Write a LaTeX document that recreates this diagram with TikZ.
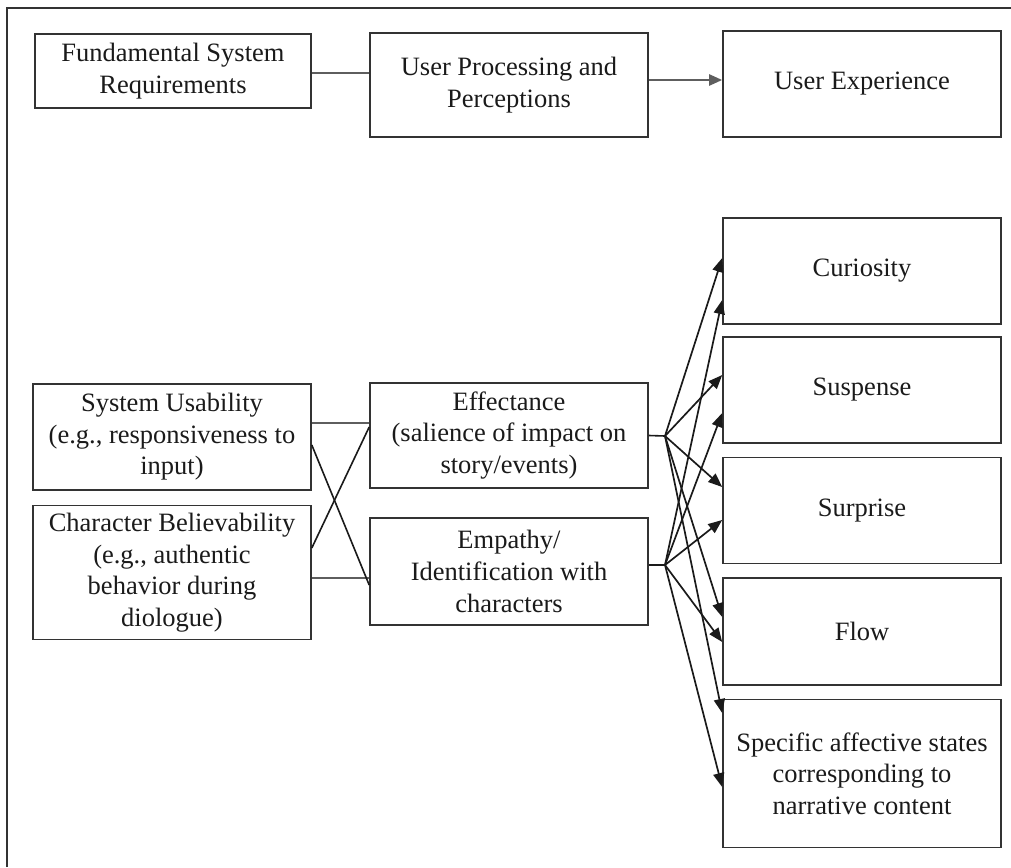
\documentclass[tikz,border=0pt]{standalone}
\usepackage{fontspec}
\setmainfont{Liberation Serif}
\usetikzlibrary{arrows.meta}
\definecolor{ink}{HTML}{1A1A1A}
\definecolor{edge}{HTML}{333333}
\definecolor{link}{HTML}{5E5E5E}
\tikzset{
  box/.style={draw=edge, line width=1.6pt, align=center, text=ink,
    inner sep=0pt, minimum width=278pt,
    font=\fontsize{26.5}{31.6}\selectfont},
  plain/.style={draw=link, line width=2pt},
  cross/.style={draw=ink, line width=1.6pt},
  fan/.style={draw=ink, line width=1.7pt,
    -{Triangle[length=14pt,width=11pt]}},
}
\begin{document}
\begin{tikzpicture}[x=1pt, y=-1pt]
\useasboundingbox (0,0) rectangle (1011,867);
% outer frame (open to the right and bottom)
\draw[edge, line width=1.5pt] (7,867) -- (7,8) -- (1011,8);

% top row
\node[box, minimum width=276pt, minimum height=74pt] (fsr) at (173,71) {Fundamental System\\Requirements};
\node[box, minimum height=104pt] (upp) at (509,85) {User Processing and\\Perceptions};
\node[box, minimum height=106pt] (ux) at (862,84) {User Experience};

% left column
\node[box, minimum height=106pt] (su) at (172,437) {System Usability\\(e.g., responsiveness to\\input)};
\node[box, minimum height=134pt] (cb) at (172,572.5) {Character Believability\\(e.g., authentic\\behavior during\\diologue)};

% middle column
\node[box, minimum height=105pt] (eff) at (509,435.5) {Effectance\\(salience of impact on\\story/events)};
\node[box, minimum height=107pt] (emp) at (509,571.5) {Empathy/\\Identification with\\characters};

% right column
\node[box, minimum height=106pt] (cur) at (862,271) {Curiosity};
\node[box, minimum height=106pt] (sus) at (862,390) {Suspense};
\node[box, minimum height=106pt] (sur) at (862,510.5) {Surprise};
\node[box, minimum height=107pt] (flow) at (862,631.5) {Flow};
\node[box, minimum height=148pt] (spec) at (862,773.5) {Specific affective states\\corresponding to\\narrative content};

% top row connectors
\draw[plain] ([yshift=-2pt]fsr.east) -- ([yshift=12pt]upp.west);
\draw[plain, -{Triangle[length=13pt,width=11pt]}, line width=2.4pt] ([yshift=5pt]upp.east) -- ([yshift=4pt]ux.west);

% left-to-middle links
\draw[plain] ([yshift=14pt]su.east) -- ([yshift=12.5pt]eff.west);
\draw[plain] ([yshift=-5.5pt]cb.east) -- ([yshift=-6.5pt]emp.west);
\draw[cross] ([yshift=-8pt]su.east) -- ([yshift=-13.5pt]emp.west);
\draw[cross] ([yshift=24.5pt]cb.east) -- ([yshift=8.5pt]eff.west);

% fan-out points
\coordinate (effout) at (665,436);
\coordinate (empout) at (665,565);
\draw[cross] (eff.east) -- (effout);
\draw[cross] ([yshift=6.5pt]emp.east) -- (empout);

% fan-out arrows from Effectance
\draw[fan] (effout) -- ([yshift=13pt]cur.west);
\draw[fan] (effout) -- ([yshift=15pt]sus.west);
\draw[fan] (effout) -- ([yshift=23.5pt]sur.west);
\draw[fan] (effout) -- ([yshift=14.5pt]flow.west);
\draw[fan] (effout) -- ([yshift=60.5pt]spec.west);

% fan-out arrows from Empathy/Identification
\draw[fan] (empout) -- ([yshift=-29pt]cur.west);
\draw[fan] (empout) -- ([yshift=-23pt]sus.west);
\draw[fan] (empout) -- ([yshift=-9.5pt]sur.west);
\draw[fan] (empout) -- ([yshift=-10.5pt]flow.west);
\draw[fan] (empout) -- ([yshift=-13.5pt]spec.west);
\end{tikzpicture}
\end{document}
